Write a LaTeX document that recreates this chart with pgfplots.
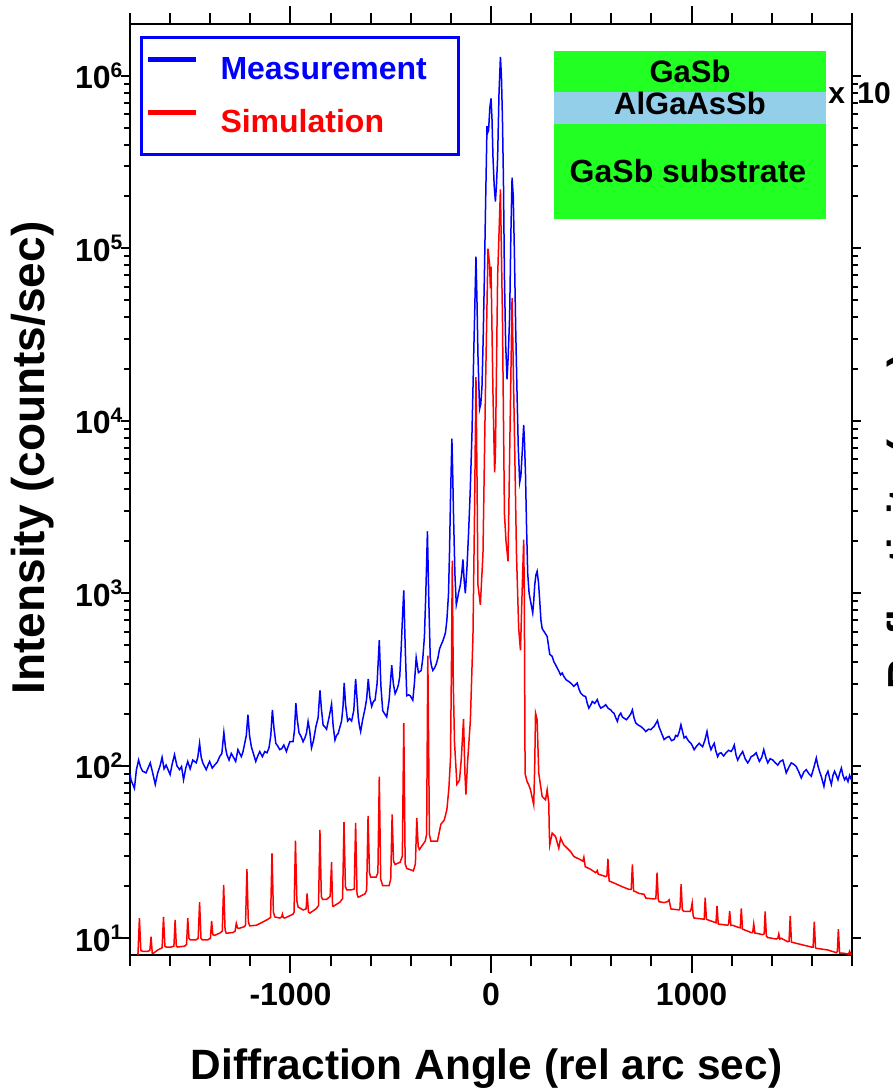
\documentclass[border=0pt]{standalone}
\usepackage{fontspec}
\setmainfont{Liberation Sans}
\usepackage{pgfplots}
\usepackage{pgfplotstable}
\pgfplotsset{compat=1.18}
\definecolor{insetgreen}{RGB}{34,255,34}
\definecolor{insetblue}{RGB}{148,207,234}
\newcommand{\tenp}[1]{10\raisebox{5.8pt}{\fontsize{10.5}{11}\selectfont #1}}

\pgfplotstableread{
x y
-1800 90
-1795 83
-1778 74
-1768 95
-1757 108
-1747 98
-1737 93
-1720 91
-1710 97
-1699 104
-1686 90
-1674 78
-1662 91
-1650 100
-1640 112
-1630 96
-1620 101
-1600 89
-1590 102
-1578 116
-1566 100
-1553 95
-1543 99
-1533 83
-1522 97
-1512 106
-1500 96
-1487 108
-1470 104
-1462 112
-1453 135
-1445 112
-1437 104
-1420 95
-1411 101
-1403 106
-1390 97
-1378 101
-1365 105
-1353 113
-1342 118
-1332 156
-1324 128
-1317 116
-1306 108
-1295 118
-1284 112
-1273 106
-1262 124
-1245 113
-1237 120
-1228 135
-1220 150
-1212 198
-1204 150
-1195 129
-1185 118
-1173 106
-1163 114
-1153 121
-1140 113
-1128 121
-1117 119
-1107 127
-1098 150
-1090 211
-1082 165
-1073 135
-1063 130
-1053 124
-1043 126
-1033 132
-1020 121
-1011 130
-1003 138
-987 138
-980 160
-973 231
-966 185
-957 155
-947 148
-937 138
-928 145
-920 155
-912 181
-904 160
-895 127
-885 140
-873 169
-862 190
-853 274
-845 210
-837 172
-828 168
-820 163
-807 192
-795 228
-787 170
-778 141
-770 150
-762 154
-745 182
-738 220
-732 302
-725 225
-715 182
-705 188
-695 182
-684 210
-675 319
-668 245
-662 192
-656 170
-650 158
-640 185
-628 215
-620 245
-612 319
-604 250
-595 221
-587 235
-578 241
-568 300
-557 536
-549 290
-540 209
-530 200
-520 192
-508 240
-495 383
-487 300
-478 262
-470 275
-462 294
-455 330
-448 474
-442 700
-435 1040
-428 500
-420 255
-411 258
-403 255
-390 240
-382 300
-373 424
-367 380
-362 347
-348 357
-340 420
-332 561
-325 1000
-317 2290
-310 900
-303 424
-297 380
-290 357
-281 370
-273 389
-265 420
-257 474
-248 505
-240 530
-233 560
-227 593
-220 700
-212 984
-207 1705
-202 3500
-195 7880
-191 5000
-187 2890
-180 1300
-173 858
-167 930
-162 1004
-153 1116
-146 1300
-140 1573
-134 1200
-128 1000
-120 1400
-112 2218
-104 3800
-95 8300
-85 28000
-75 89500
-70 50000
-65 23900
-57 11700
-51 12500
-45 15700
-39 30000
-33 68700
-27 180000
-20 511000
-16 470000
-12 485000
-6 650000
0 741000
5 560000
10 335000
16 230000
22 187000
27 230000
33 335000
40 800000
47 1290000
52 1000000
57 569000
62 250000
67 68700
73 28000
80 17400
86 24000
93 40500
99 120000
105 257000
111 200000
117 89500
123 35000
130 14100
136 7000
143 4400
149 4800
155 6380
163 9480
167 7500
172 4900
177 2500
183 1309
190 1000
197 904
208 771
213 900
218 1116
224 1280
230 1343
237 1150
243 904
249 700
255 625
268 592
280 562
293 443
305 431
314 400
322 385
335 360
347 337
355 345
363 330
375 315
388 308
400 300
413 289
421 295
430 302
438 280
447 264
460 255
472 252
480 230
488 216
497 225
505 236
517 230
530 242
539 225
547 216
560 220
572 226
585 215
597 211
605 205
613 202
622 190
630 181
638 195
647 202
655 192
663 189
675 185
688 193
697 200
705 211
713 190
722 177
735 172
747 169
760 164
772 158
785 163
797 162
805 166
813 169
822 176
830 183
838 168
847 158
855 150
863 142
876 146
888 148
900 140
913 142
921 150
930 148
939 158
947 173
955 158
963 145
972 148
980 142
988 138
997 135
1005 130
1013 124
1025 130
1038 135
1046 132
1055 129
1066 140
1077 158
1087 135
1097 124
1105 130
1113 135
1121 122
1130 113
1138 118
1147 119
1160 114
1172 119
1185 123
1197 121
1205 125
1213 132
1222 115
1230 108
1242 115
1255 121
1267 110
1280 104
1289 108
1297 113
1310 115
1322 119
1330 112
1338 106
1350 112
1360 124
1370 112
1380 104
1392 110
1405 108
1418 104
1430 101
1442 106
1455 108
1463 100
1472 91
1485 98
1497 104
1510 102
1522 99
1535 92
1547 85
1560 92
1572 95
1585 90
1597 87
1610 98
1622 111
1630 100
1638 93
1649 85
1660 76
1670 88
1680 93
1689 84
1697 78
1705 88
1713 93
1722 88
1730 83
1738 90
1747 97
1755 88
1763 83
1771 86
1780 81
1788 88
1797 83
}\measured

\pgfplotstableread{
x y
-1770 7
-1760 8.2
-1753 13.1
-1746 8.5
-1737 8.4
-1712 8.4
-1701 8.5
-1695 10.2
-1689 8.2
-1683 8.2
-1662 8.55
-1640 8.8
-1633 13.3
-1626 9.0
-1620 8.9
-1595 8.9
-1581 9.0
-1575 12.8
-1569 9.0
-1562 8.9
-1528 9.0
-1518 9.2
-1512 13.1
-1506 10.0
-1500 9.8
-1470 9.8
-1460 10.0
-1453 16.2
-1446 10.0
-1440 9.8
-1412 9.8
-1399 10.0
-1393 12.6
-1387 10.5
-1378 10.4
-1353 10.7
-1340 11.0
-1333 20.4
-1326 11.2
-1320 10.7
-1287 10.8
-1276 11.0
-1270 12.2
-1264 11.5
-1257 11.4
-1228 11.7
-1224 12.0
-1217 25.2
-1210 12.5
-1203 11.8
-1170 11.9
-1145 12.3
-1117 12.8
-1099 13.2
-1092 31.1
-1085 14.2
-1078 13.3
-1053 13.1
-1044 13.3
-1040 13.8
-1036 13.2
-1028 13.1
-987 13.8
-982 14.2
-975 36.8
-968 16.5
-962 15.2
-937 14.6
-922 14.8
-917 18.2
-910 14.2
-903 14.0
-870 14.9
-860 15.5
-853 42.5
-846 17.5
-840 16.8
-820 16.8
-802 17.5
-795 27.6
-790 15.5
-787 15.3
-753 16.2
-740 17
-733 47.1
-726 20
-720 19.1
-695 19.1
-682 19.3
-675 46.6
-668 18
-662 17.3
-628 18.1
-620 19
-613 51.3
-606 24
-600 22.6
-573 22.6
-564 24
-557 86.5
-550 22
-540 20.2
-508 20.2
-500 22
-493 52.2
-486 28
-478 26.8
-453 27.6
-442 30
-435 177
-428 27
-420 25.4
-387 24.6
-377 27
-370 49.9
-363 34
-357 32.7
-328 36.6
-321 40
-315 436
-307 40
-300 36.6
-267 36.6
-250 45.8
-233 48.5
-220 55.7
-210 74
-202 110
-197 400
-193 1545
-188 300
-182 137
-170 78.2
-157 82.7
-148 110
-137 187
-130 90
-125 68
-117 104
-103 182
-90 561
-82 3000
-75 17900
-70 5000
-65 1116
-53 858
-40 1705
-28 14100
-15 99500
-7 80500
-3 58700
0 78400
10 14100
18 5030
22 6380
33 68700
47 220000
57 40500
67 2890
75 1995
85 1535
93 6380
105 51400
117 8300
127 1705
138 625
147 467
155 1004
163 2050
166 1000
170 90
180 81
188 77.6
197 72.6
213 59.4
218 100
222 202
230 185
238 90.7
255 66.4
272 63.5
280 72.6
288 60.8
291 40
293 34.8
305 40.7
322 38.9
338 33.3
347 38
363 34.8
397 31.8
413 29.8
447 28.5
458 28
463 29.5
470 26
497 25.1
522 24
530 24.7
535 23.5
547 23.3
572 22.8
578 23
583 28.9
589 21.5
597 21.3
622 20.7
655 19.9
688 19.2
699 19.2
705 26.8
711 18.8
722 18.6
738 18.2
763 18.0
772 17.1
813 16.9
822 17.0
828 24
834 16.8
838 16.3
863 16.1
880 16.3
888 16.7
897 14.8
938 14.6
942 14.8
948 20.6
954 14.6
963 14.3
993 14.3
998 14.8
1003 16
1008 13.5
1013 13.1
1063 12.9
1068 17.2
1074 12.9
1080 12.8
1122 12.3
1127 15.4
1133 12.1
1180 11.9
1185 12.1
1190 14.4
1196 11.9
1205 11.9
1230 11.6
1243 11.5
1248 14.9
1254 11.3
1263 11.2
1297 10.8
1305 10.8
1310 12.1
1316 10.7
1322 10.7
1355 10.5
1362 10.6
1367 14.3
1373 10.3
1380 10.1
1422 9.9
1430 10.0
1435 10.6
1440 9.9
1447 10.0
1480 9.55
1486 9.6
1492 13.5
1498 9.5
1530 9.3
1597 8.9
1606 8.9
1612 12.5
1618 8.8
1622 8.75
1680 8.55
1722 8.25
1727 8.4
1732 11.3
1738 8.2
1755 8.2
1783 8.1
1788 8.4
1795 8.0
}\simulated

\begin{document}
\begin{tikzpicture}[x=1pt,y=1pt]
\path[use as bounding box] (0,0) rectangle (446.5,546);
\begin{axis}[
  at={(65pt,68.5pt)}, anchor=south west,
  width=361pt, height=465.5pt, scale only axis,
  xmin=-1800, xmax=1800,
  ymode=log, ymin=8, ymax=2e6,
  axis line style={line width=1.35pt},
  tick style={line width=1pt, black},
  tick align=outside,
  xtick pos=both, ytick pos=both,
  major tick length=8.8pt, minor tick length=5.5pt,
  ytick style={/pgfplots/major tick length=4.5pt, /pgfplots/minor tick length=2.8pt},
  xtick={-1000,0,1000}, xticklabels={-1000,0,1000},
  minor xtick={-1800,-1600,...,1800},
  ytick={10,100,1000,10000,100000,1000000},
  yticklabels={\tenp{1},\tenp{2},\tenp{3},\tenp{4},\tenp{5},\tenp{6}},
  ticklabel style={font=\fontsize{16}{19}\selectfont\bfseries},
  yticklabel style={xshift=8.5pt},
  xticklabel style={yshift=-1.5pt},
  legend style={at={(rel axis cs:0.01385,0.9871)}, anchor=north west,
    draw=blue, line width=1.35pt, fill=white,
    inner xsep=2pt, inner ysep=7pt, row sep=8.7pt,
    cells={anchor=west},
    nodes={inner sep=0pt, text height=14pt, text depth=4pt},
    font=\fontsize{16}{19}\selectfont\bfseries},
  legend image code/.code={\draw[#1, line width=2.4pt] (0pt,5pt) -- (24pt,5pt); \path (0pt,0pt) (36pt,0pt);},
]
\addplot[blue, line width=0.75pt] table[x=x,y=y] {\measured};
\addlegendentry{\textcolor{blue}{Measurement}\rule{14pt}{0pt}}
\addplot[red, line width=0.75pt] table[x=x,y=y] {\simulated};
\addlegendentry{\textcolor{red}{Simulation}}
\end{axis}
% inset layer structure
\fill[insetgreen] (277,436.5) rectangle (413,520.5);
\fill[insetblue] (277,484) rectangle (413,500);
\node[anchor=base, font=\fontsize{15.5}{18}\selectfont\bfseries, inner sep=0pt] at (345,504.5) {GaSb};
\node[anchor=base, font=\fontsize{15.5}{18}\selectfont\bfseries, inner sep=0pt] at (345,488.5) {AlGaAsSb};
\node[anchor=base, font=\fontsize{16}{18}\selectfont\bfseries, inner sep=0pt] at (344,454.5) {GaSb substrate};
% axis titles
\node[rotate=90, anchor=base, font=\fontsize{23}{27}\selectfont\bfseries, inner sep=0pt] at (22,317) {Intensity (counts/sec)};
\node[anchor=base, font=\fontsize{21.2}{25}\selectfont\bfseries, inner sep=0pt] at (243.25,6) {Diffraction Angle (rel arc sec)};
% partially visible right-hand labels
\node[anchor=base west, font=\fontsize{15}{18}\selectfont\bfseries, inner sep=0pt] at (414,494) {x};
\node[anchor=base west, font=\fontsize{15}{18}\selectfont\bfseries, inner sep=0pt] at (428.5,494) {10};
\node[rotate=90, anchor=north west, font=\fontsize{21}{25}\selectfont\bfseries, inner sep=0pt] at (443.5,201) {Reflectivity (a.u.)};
\end{tikzpicture}
\end{document}
